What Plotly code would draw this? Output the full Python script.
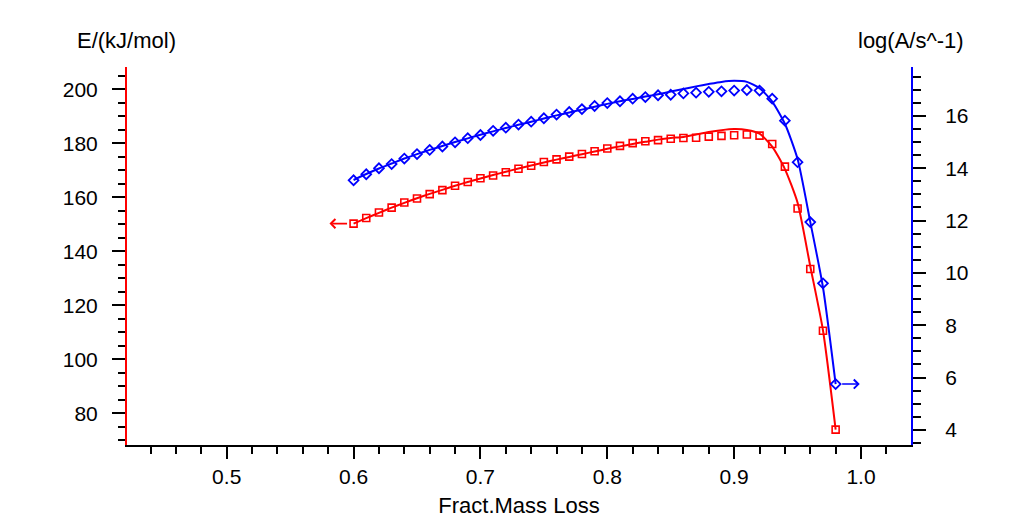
import plotly.graph_objects as go

# ---- data ----
frac = [0.60, 0.61, 0.62, 0.63, 0.64, 0.65, 0.66, 0.67, 0.68, 0.69,
        0.70, 0.71, 0.72, 0.73, 0.74, 0.75, 0.76, 0.77, 0.78, 0.79,
        0.80, 0.81, 0.82, 0.83, 0.84, 0.85, 0.86, 0.87, 0.88, 0.89,
        0.90, 0.91, 0.92, 0.93, 0.94, 0.95, 0.96, 0.97, 0.98]

E_points = [150.3, 152.4, 154.4, 156.2, 158.1, 159.6, 161.2, 162.7, 164.3, 165.7,
            167.1, 168.1, 169.3, 170.6, 171.7, 173.1, 174.1, 175.1, 176.1, 177.1,
            178.1, 179.1, 180.1, 180.8, 181.2, 181.7, 182.0, 182.1, 182.5, 182.8,
            183.0, 183.3, 182.9, 179.8, 171.4, 155.9, 133.5, 110.6, 74.0]

E_fit = [150.3, 152.3, 154.3, 156.2, 158.0, 159.7, 161.3, 162.8, 164.3, 165.7,
         167.0, 168.3, 169.5, 170.7, 171.8, 172.9, 174.0, 175.0, 176.0, 177.0,
         178.0, 178.9, 179.8, 180.6, 181.4, 182.0, 182.4, 183.3, 184.2, 184.9,
         185.3, 185.0, 183.6, 178.8, 170.5, 158.0, 134.5, 110.8, 74.0]

logA_points = [13.54, 13.77, 14.00, 14.16, 14.37, 14.54, 14.70, 14.83, 14.99, 15.15,
               15.27, 15.43, 15.55, 15.67, 15.78, 15.91, 16.05, 16.15, 16.26, 16.38,
               16.49, 16.56, 16.66, 16.72, 16.79, 16.81, 16.86, 16.89, 16.92, 16.94,
               16.97, 16.99, 16.97, 16.66, 15.82, 14.23, 11.94, 9.60, 5.75]

logA_fit = [13.55, 13.78, 13.99, 14.18, 14.37, 14.54, 14.70, 14.85, 15.00, 15.14,
            15.28, 15.41, 15.54, 15.66, 15.78, 15.90, 16.02, 16.13, 16.24, 16.35,
            16.46, 16.56, 16.65, 16.74, 16.83, 16.93, 17.03, 17.13, 17.22, 17.30,
            17.34, 17.30, 17.06, 16.55, 15.70, 14.35, 11.95, 9.45, 5.75]

x_ticks = [0.5, 0.6, 0.7, 0.8, 0.9, 1.0]
x_ticklabels = ["0.5", "0.6", "0.7", "0.8", "0.9", "1.0"]

RED = "#ff0000"
BLUE = "#0000ff"
FONT = "Liberation Sans, Arial, sans-serif"
FS = 21
FT = 22

fig = go.Figure()

fig.add_trace(go.Scatter(x=frac, y=E_fit, mode="lines", line=dict(color=RED, width=2, shape="spline", smoothing=0.6),
                         yaxis="y", showlegend=False, hoverinfo="skip"))
fig.add_trace(go.Scatter(x=frac, y=E_points, mode="markers",
                         marker=dict(symbol="square-open", size=7, color=RED, line=dict(width=1.6, color=RED)),
                         yaxis="y", showlegend=False))
fig.add_trace(go.Scatter(x=frac, y=logA_fit, mode="lines", line=dict(color=BLUE, width=2, shape="spline", smoothing=0.6),
                         yaxis="y2", showlegend=False, hoverinfo="skip"))
fig.add_trace(go.Scatter(x=frac, y=logA_points, mode="markers",
                         marker=dict(symbol="diamond-open", size=7.5, color=BLUE, line=dict(width=1.8, color=BLUE)),
                         yaxis="y2", showlegend=False))

# axis-indicator arrows
arrow_len = 0.019
fig.add_annotation(x=frac[0] - arrow_len, y=E_points[0], ax=frac[0], ay=E_points[0],
                   xref="x", yref="y", axref="x", ayref="y", showarrow=True, text="",
                   arrowhead=4, arrowsize=1.1, arrowwidth=1.6, arrowcolor=RED, startstandoff=5)
fig.add_annotation(x=frac[-1] + arrow_len, y=logA_points[-1], ax=frac[-1], ay=logA_points[-1],
                   xref="x", yref="y2", axref="x", ayref="y2", showarrow=True, text="",
                   arrowhead=4, arrowsize=1.1, arrowwidth=1.6, arrowcolor=BLUE, startstandoff=5)

# axis titles at top
fig.add_annotation(text="E/(kJ/mol)", xref="paper", yref="paper", x=0, y=1, xanchor="center",
                   yanchor="middle", yshift=27, xshift=-1, showarrow=False, font=dict(family=FONT, size=FT, color="black"))
fig.add_annotation(text="log(A/s^-1)", xref="paper", yref="paper", x=1, y=1, xanchor="center",
                   yanchor="middle", yshift=27, showarrow=False, font=dict(family=FONT, size=FT, color="black"))

fig.update_layout(
    width=1009, height=516,
    margin=dict(l=119, r=106, t=59, b=79, autoexpand=False),
    paper_bgcolor="white", plot_bgcolor="white",
    font=dict(family=FONT, size=FS, color="black"),
    xaxis=dict(range=[0.4214, 1.0394], tickvals=x_ticks, ticktext=x_ticklabels, automargin=False,
               showgrid=False, zeroline=False, showline=True, linecolor="black", linewidth=2,
               ticks="outside", ticklen=12, tickwidth=2, tickcolor="black",
               minor=dict(dtick=0.02, tick0=0.4, ticks="outside", ticklen=7, tickwidth=2, tickcolor="black", showgrid=False),
               title=dict(text="Fract.Mass Loss", font=dict(size=FT), standoff=10),
               tickfont=dict(size=FS)),
    yaxis=dict(range=[68.3, 208.3], dtick=20, tick0=0, automargin=False,
               showgrid=False, zeroline=False, showline=True, linecolor=RED, linewidth=2,
               ticks="outside", ticklen=13, tickwidth=2, tickcolor="black",
               minor=dict(dtick=5, ticks="outside", ticklen=7, tickwidth=2, tickcolor="black", showgrid=False),
               tickfont=dict(size=FS), ticklabelstandoff=10),
    yaxis2=dict(range=[3.42, 17.87], dtick=2, tick0=0, overlaying="y", side="right", automargin=False,
                showgrid=False, zeroline=False, showline=True, linecolor=BLUE, linewidth=2,
                ticks="outside", ticklen=13, tickwidth=2, tickcolor="black",
                minor=dict(dtick=0.5, ticks="outside", ticklen=8, tickwidth=2, tickcolor="black", showgrid=False),
                tickfont=dict(size=FS), ticklabelstandoff=15),
)

fig.write_html("out.html")
